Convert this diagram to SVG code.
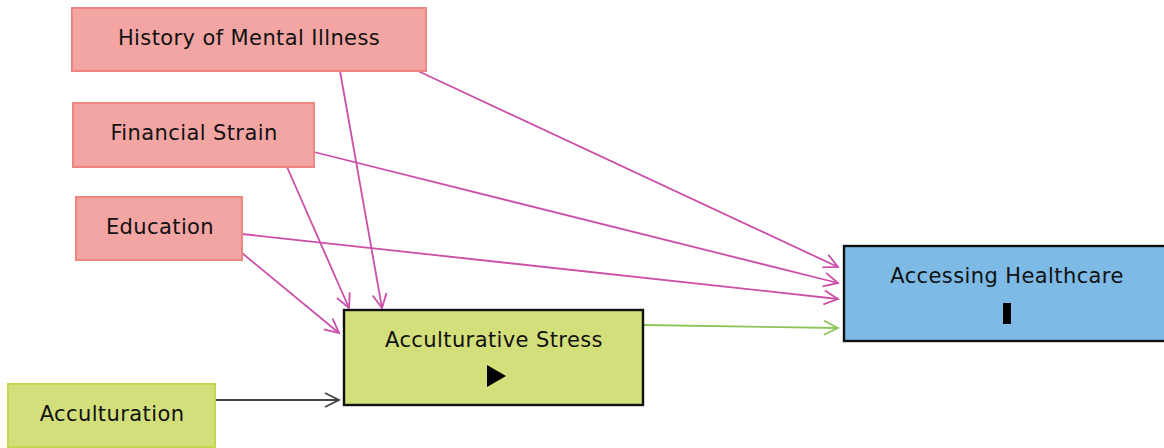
<svg xmlns="http://www.w3.org/2000/svg" width="1164" height="448" viewBox="0 0 1164 448">
<style>
.red rect{fill:#f3a5a3;stroke:#ee8580;stroke-width:2}
.grn rect{fill:#d3df7b;stroke:#c3d84f;stroke-width:2}
.t{font-family:"DejaVu Sans",sans-serif;font-size:21px;letter-spacing:0.4px;fill:#111;text-anchor:middle;dominant-baseline:central}
.p{stroke:#cc4fa8;stroke-width:1.8;fill:none}
.g{stroke:#8cc65a;stroke-width:1.8;fill:none}
.k{stroke:#444;stroke-width:1.8;fill:none}
</style>
<defs>
<marker id="ap" markerUnits="userSpaceOnUse" markerWidth="18" markerHeight="18" refX="15" refY="8" orient="auto" viewBox="0 0 18 16"><path d="M1,1 L15,8 L1,15" fill="none" stroke="#cc4fa8" stroke-width="1.8"/></marker>
<marker id="ag" markerUnits="userSpaceOnUse" markerWidth="18" markerHeight="18" refX="15" refY="8" orient="auto" viewBox="0 0 18 16"><path d="M1,1 L15,8 L1,15" fill="none" stroke="#8cc65a" stroke-width="1.8"/></marker>
<marker id="ak" markerUnits="userSpaceOnUse" markerWidth="18" markerHeight="18" refX="15" refY="8" orient="auto" viewBox="0 0 18 16"><path d="M1,1 L15,8 L1,15" fill="none" stroke="#444" stroke-width="1.8"/></marker>
</defs>
<g id="connectors">
<line class="p" x1="418" y1="71" x2="838" y2="267" marker-end="url(#ap)"/>
<line class="p" x1="340" y1="71" x2="382" y2="308" marker-end="url(#ap)"/>
<line class="p" x1="314" y1="152" x2="838" y2="283" marker-end="url(#ap)"/>
<line class="p" x1="287" y1="167" x2="349" y2="308" marker-end="url(#ap)"/>
<line class="p" x1="242" y1="234" x2="838" y2="299" marker-end="url(#ap)"/>
<line class="p" x1="242" y1="253" x2="339" y2="333" marker-end="url(#ap)"/>
<line class="g" x1="643" y1="325" x2="838" y2="328" marker-end="url(#ag)"/>
<line class="k" x1="215" y1="400" x2="339" y2="400" marker-end="url(#ak)"/>
</g>
<g id="history" class="red"><rect x="72" y="8" width="354" height="63"/><text class="t" x="249" y="38">History of Mental Illness</text></g>
<g id="financial" class="red"><rect x="73" y="103" width="241" height="64"/><text class="t" x="194" y="133">Financial Strain</text></g>
<g id="education" class="red"><rect x="76" y="197" width="166" height="63"/><text class="t" x="160" y="227">Education</text></g>
<g id="acculturation" class="grn"><rect x="8" y="384" width="207" height="63"/><text class="t" x="112" y="414">Acculturation</text></g>
<g id="stress"><rect x="344" y="310" width="299" height="95" fill="#d3df7b" stroke="#111" stroke-width="2.4"/><text class="t" x="494" y="340">Acculturative Stress</text><path d="M487,365 L506,376 L487,387 Z" fill="#000"/></g>
<g id="healthcare"><rect x="844" y="246" width="330" height="95" fill="#7dbae6" stroke="#111" stroke-width="2.4"/><text class="t" x="1007" y="276">Accessing Healthcare</text><rect x="1003" y="303" width="8" height="21" fill="#000"/></g>
</svg>
